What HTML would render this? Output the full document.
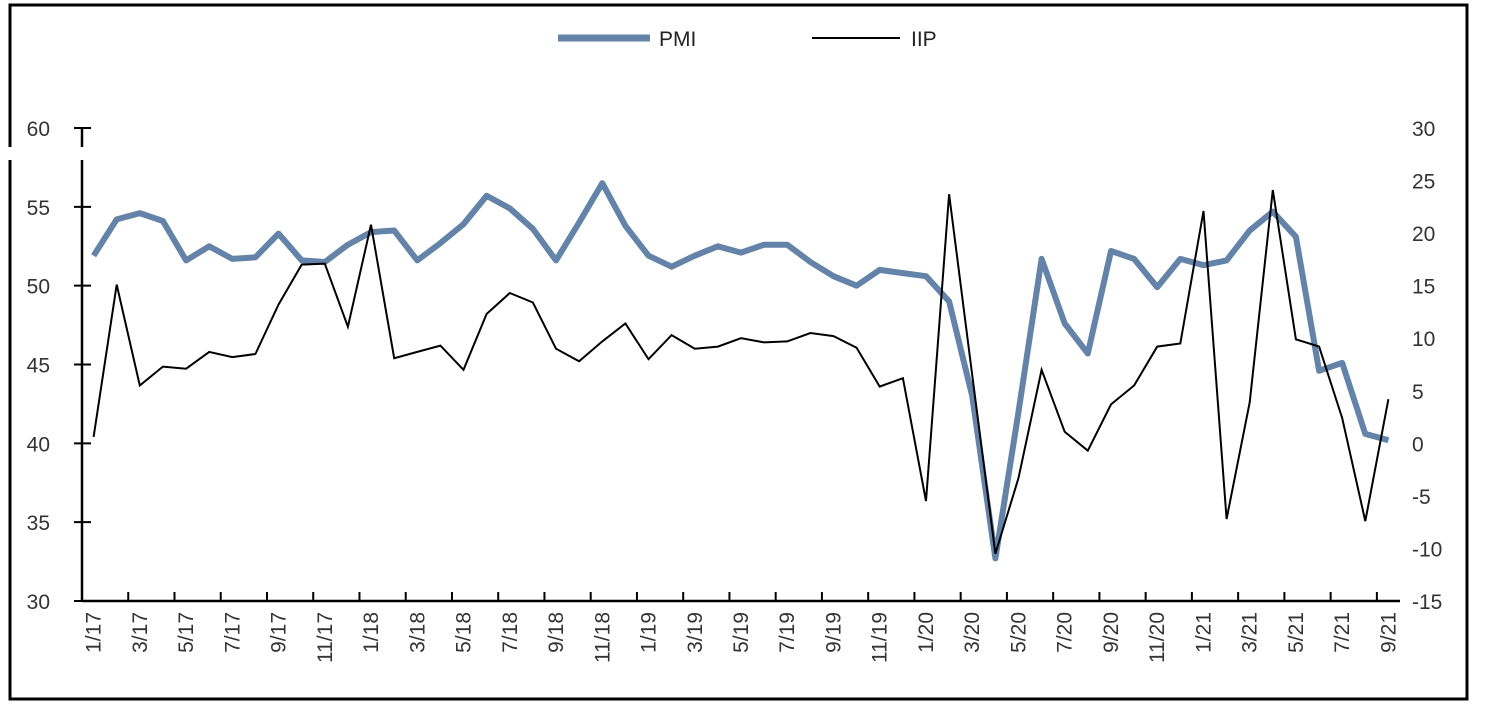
<!DOCTYPE html>
<html><head><meta charset="utf-8"><style>
html,body{margin:0;padding:0;background:#fff;}
svg{display:block;font-family:"Liberation Sans",sans-serif;}
</style></head><body>
<svg id="s" width="1487" height="714" xmlns="http://www.w3.org/2000/svg"></svg>
<script>
const pmi=[51.9,54.2,54.6,54.1,51.6,52.5,51.7,51.8,53.3,51.6,51.5,52.6,53.4,53.5,51.6,52.7,53.9,55.7,54.9,53.6,51.6,54.0,56.5,53.8,51.9,51.2,51.9,52.5,52.1,52.6,52.6,51.5,50.6,50.0,51.0,50.8,50.6,49.0,43.0,32.7,42.0,51.7,47.6,45.7,52.2,51.7,49.9,51.7,51.3,51.6,53.5,54.7,53.1,44.6,45.1,40.6,40.2];
const iip=[0.6,15.1,5.5,7.3,7.1,8.7,8.2,8.5,13.2,17.0,17.1,11.1,20.8,8.1,8.7,9.3,7.0,12.3,14.3,13.4,9.0,7.8,9.7,11.4,8.0,10.3,9.0,9.2,10.0,9.6,9.7,10.5,10.2,9.1,5.4,6.2,-5.5,23.7,6.5,-10.5,-3.3,7.0,1.1,-0.7,3.7,5.5,9.2,9.5,22.1,-7.2,3.9,24.1,9.9,9.2,2.4,-7.4,4.2];
const X0=82,X1=1400,n=57,w=(X1-X0)/n,T=128,B=601;
const cx=i=>X0+w*(i+0.5);
const yl=v=>T+(60-v)*(B-T)/30;
const yr=v=>T+(30-v)*(B-T)/45;
let s='';
s+='<rect x="10" y="5" width="1457" height="694" fill="none" stroke="#000" stroke-width="3"/>';
s+='<rect x="5" y="147" width="10" height="13" fill="#fff"/>';
// legend
s+='<line x1="558" y1="38" x2="650" y2="38" stroke="#6483a8" stroke-width="7"/><text x="659" y="46" font-size="21" fill="#222">PMI</text>';
s+='<line x1="812" y1="38" x2="900" y2="38" stroke="#000" stroke-width="2"/><text x="911" y="46" font-size="21" fill="#222">IIP</text>';
// left axis
s+='<line x1="82" y1="128" x2="82" y2="147" stroke="#000" stroke-width="2.5"/><line x1="82" y1="160" x2="82" y2="601" stroke="#000" stroke-width="2.5"/>';
for(let v=30;v<=60;v+=5){const y=yl(v);s+=`<line x1="74" y1="${y}" x2="91" y2="${y}" stroke="#000" stroke-width="2"/><text x="50" y="${y+8}" font-size="21" fill="#333" text-anchor="end">${v}</text>`;}
for(let v=-15;v<=30;v+=5){const y=yr(v);s+=`<text x="1412" y="${y+8}" font-size="21" fill="#333">${v}</text>`;}
// x axis
s+=`<line x1="82" y1="601" x2="1400" y2="601" stroke="#000" stroke-width="2.5"/>`;
for(let k=0;k<=56;k+=2){const x=X0+w*k;s+=`<line x1="${x}" y1="592" x2="${x}" y2="601" stroke="#000" stroke-width="2"/>`;}
for(let i=0;i<n;i+=2){const m=(i%12)+1,yr2=17+Math.floor(i/12);const x=cx(i)+7;s+=`<text transform="translate(${x},612) rotate(-90)" font-size="21" fill="#333" text-anchor="end">${m}/${yr2}</text>`;}
s+=`<polyline fill="none" stroke="#6483a8" stroke-width="6" stroke-linejoin="round" points="${pmi.map((v,i)=>cx(i).toFixed(1)+','+yl(v).toFixed(1)).join(' ')}"/>`;
s+=`<polyline fill="none" stroke="#000" stroke-width="2" points="${iip.map((v,i)=>cx(i).toFixed(1)+','+yr(v).toFixed(1)).join(' ')}"/>`;
document.getElementById('s').innerHTML=s;
</script>
</body></html>
